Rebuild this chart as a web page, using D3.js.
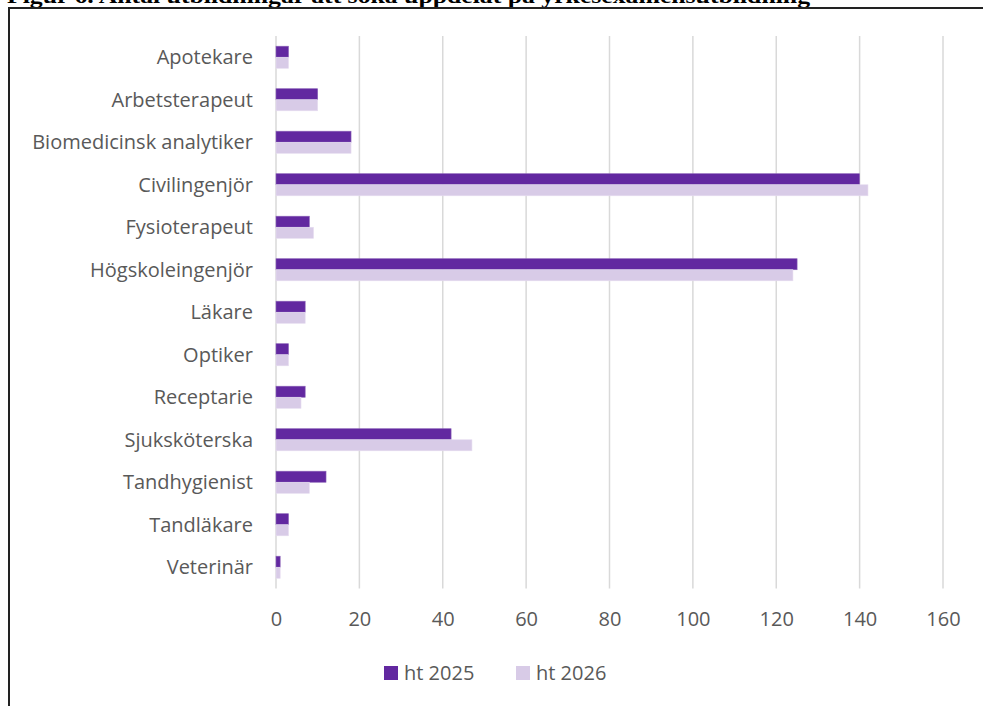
<!DOCTYPE html>
<html><head><meta charset="utf-8">
<script src="https://cdn.jsdelivr.net/npm/d3@7"></script>
<style>
html,body{margin:0;padding:0;background:#fff;overflow:hidden}
svg{display:block}
</style></head>
<body>
<svg id="c" width="983" height="706"></svg>
<script>
const title = "Figur 6. Antal utbildningar att söka uppdelat på yrkesexamensutbildning";
const categories = ["Apotekare","Arbetsterapeut","Biomedicinsk analytiker","Civilingenjör","Fysioterapeut","Högskoleingenjör","Läkare","Optiker","Receptarie","Sjuksköterska","Tandhygienist","Tandläkare","Veterinär"];
const seriesNames = ["ht 2025","ht 2026"];
const ht2025 = [3,10,18,140,8,125,7,3,7,42,12,3,1];
const ht2026 = [3,10,18,142,9,124,7,3,6,47,8,3,1];
const xTicks = [0,20,40,60,80,100,120,140,160];
const colors = ["#6228A0","#D8CBE7"];

const svg = d3.select("#c");
const font = "'Open Sans', 'Noto Sans', sans-serif";
const fs = 20;
const mLeft = 276, mRight = 943, mTop = 36, mBottom = 588.5;

// title (partially cut off, as in the reference)
svg.append("text").attr("x",7).attr("y",3)
  .attr("font-family","'Liberation Serif', serif").attr("font-weight","bold")
  .attr("font-size",20).attr("fill","#000")
  .attr("textLength",803).attr("lengthAdjust","spacingAndGlyphs")
  .text(title);

// frame
svg.append("rect").attr("x",9).attr("y",8).attr("width",1000).attr("height",720)
  .attr("fill","none").attr("stroke","#222").attr("stroke-width",2);

const x = d3.scaleLinear().domain([0,160]).range([mLeft,mRight]);
const y = d3.scaleBand().domain(categories).range([mTop,mBottom]).paddingInner(0.48).paddingOuter(0.24);
const ys = d3.scaleBand().domain(seriesNames).range([0,y.bandwidth()]);

// gridlines
svg.append("g").selectAll("line").data(xTicks).join("line")
  .attr("x1",d=>x(d)).attr("x2",d=>x(d)).attr("y1",mTop).attr("y2",mBottom)
  .attr("stroke","#D9D9D9").attr("stroke-width",1.5);

// x axis labels
const xAxis = d3.axisBottom(x).tickValues(xTicks).tickSize(0).tickPadding(0);
const gx = svg.append("g").attr("transform",`translate(0,619)`).call(xAxis);
gx.select(".domain").remove();
gx.selectAll("text").attr("font-family",font).attr("font-size",fs).attr("fill","#595959").attr("dy","0.36em");

// y axis labels
const yAxis = d3.axisLeft(y).tickSize(0).tickPadding(0);
const gy = svg.append("g").attr("transform",`translate(${mLeft-23},0)`).call(yAxis);
gy.select(".domain").remove();
gy.selectAll("text").attr("font-family",font).attr("font-size",fs).attr("fill","#595959").attr("dy","0.36em");

// bars
const data = [ht2025, ht2026];
data.forEach((vals,si)=>{
  svg.append("g").selectAll("rect").data(vals).join("rect")
    .attr("x",x(0))
    .attr("y",(d,i)=>y(categories[i])+ys(seriesNames[si]))
    .attr("width",d=>x(d)-x(0))
    .attr("height",ys.bandwidth())
    .attr("fill",colors[si])
    .attr("stroke", si===0 ? "#8B63B8" : "#E6DCF0").attr("stroke-width",0.6);
});

// legend
const lg = svg.append("g");
const lx = [384, 516];
seriesNames.forEach((n,i)=>{
  lg.append("rect").attr("x",lx[i]).attr("y",666).attr("width",14).attr("height",14).attr("fill",colors[i]);
  lg.append("text").attr("x",lx[i]+20).attr("y",673).attr("dy","0.36em")
    .attr("font-family",font).attr("font-size",fs).attr("fill","#595959").text(n);
});
</script>
</body></html>
